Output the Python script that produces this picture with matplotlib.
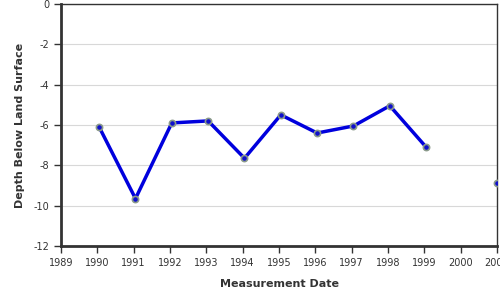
import numpy as np
import matplotlib.pyplot as plt

plt.rcParams['axes.unicode_minus'] = False

# Measurement dates (decimal years) and depth below land surface (ft)
years = [1990.05, 1991.05, 1992.05, 1993.05, 1994.05, 1995.05, 1996.05,
         1997.05, 1998.05, 1999.05, 2000.05, 2001.0]
depth = [-6.1, -9.65, -5.9, -5.8, -7.65, -5.5, -6.4, -6.05, -5.05, -7.1,
         np.nan, -8.9]
x_ticks = list(range(1989, 2002))
y_ticks = [0, -2, -4, -6, -8, -10, -12]

fig = plt.figure(figsize=(5, 3), dpi=100)
ax = fig.add_axes([0.122, 0.18, 0.872, 0.807])

ax.plot(years, depth, color="#0000dd", linewidth=2.5, zorder=3)
ax.scatter(years, depth, s=20, color="#1010cc", edgecolors="#8a9a8a",
           linewidths=1.2, zorder=4)

ax.set_xlim(1989, 2001)
ax.set_ylim(-12, 0)
ax.set_xticks(x_ticks)
ax.set_xticklabels([str(t) for t in x_ticks])
ax.set_yticks(y_ticks)

ax.grid(axis="y", color="#d8d8d8", linewidth=0.8)
ax.set_axisbelow(True)

for side in ["left", "bottom"]:
    ax.spines[side].set_linewidth(2)
    ax.spines[side].set_color("#333333")
for side in ["top", "right"]:
    ax.spines[side].set_linewidth(1)
    ax.spines[side].set_color("#333333")

ax.tick_params(axis="both", labelsize=7, colors="#333333", length=5, width=1)
ax.set_xlabel("Measurement Date", fontsize=8, fontweight="bold",
              color="#333333", labelpad=8)
ax.set_ylabel("Depth Below Land Surface", fontsize=8, fontweight="bold",
              color="#333333", labelpad=6)

fig.savefig("out.png", dpi=100)
